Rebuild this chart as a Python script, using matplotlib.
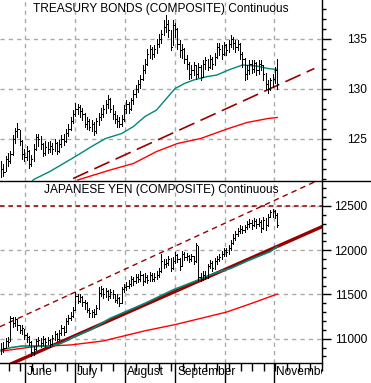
import numpy as np
import matplotlib.pyplot as plt
from matplotlib.lines import Line2D
from matplotlib.transforms import Bbox, TransformedBbox

plt.rcParams['font.family'] = ['Liberation Sans', 'DejaVu Sans']
plt.rcParams['font.size'] = 8.6

# ---- Treasury bonds (daily bars) ----
bond_close = [122.0, 121.7, 123.0, 122.8, 123.5, 125.0, 125.8, 126.0, 124.8, 123.5,
              123.2, 123.8, 122.5, 123.0, 124.0, 125.2, 125.0, 124.5, 123.6, 124.2,
              124.0, 124.3, 124.0, 124.6, 123.8, 124.5, 125.0, 124.8, 125.6, 126.0,
              126.8, 127.5, 128.0, 128.2, 127.8, 127.5, 126.5, 126.8, 126.2, 126.5,
              125.8, 126.8, 127.2, 127.5, 128.0, 128.5, 129.0, 128.0, 127.5, 127.0,
              126.8, 126.5, 127.0, 128.0, 128.5, 128.0, 128.8, 129.5, 130.0, 130.5,
              131.0, 131.8, 132.5, 133.5, 134.0, 133.5, 134.0, 134.5, 135.0, 135.5,
              136.2, 136.5, 135.8, 134.2, 136.3, 136.0, 134.5, 133.8, 134.0, 133.0,
              132.5, 131.5, 131.8, 132.3, 131.5, 132.2, 131.2, 132.5, 132.8, 132.2,
              133.0, 132.5, 133.2, 134.2, 134.0, 133.5, 134.3, 133.8, 134.5, 135.0,
              134.6, 134.2, 134.5, 133.5, 133.0, 131.5, 131.8, 132.5, 132.0, 132.6,
              131.8, 132.5, 132.3, 131.5, 130.5, 130.0, 130.8, 131.0, 131.8, 130.5]
bond_high = [122.8, 122.5, 123.3, 123.6, 123.8, 125.4, 126.1, 126.6, 125.9, 124.9,
             124.0, 124.3, 123.9, 123.4, 124.5, 125.5, 125.5, 125.3, 124.6, 124.8,
             124.7, 124.8, 124.6, 125.0, 124.7, 124.9, 125.4, 125.5, 126.0, 126.5,
             127.2, 127.9, 128.6, 128.5, 128.4, 128.1, 127.6, 127.2, 127.0, 126.9,
             126.7, 127.1, 127.6, 128.1, 128.4, 128.8, 129.4, 129.1, 128.3, 127.8,
             127.4, 127.2, 127.4, 128.3, 128.8, 128.7, 129.1, 129.8, 130.4, 130.9,
             131.4, 132.3, 133.0, 134.0, 134.4, 134.2, 134.4, 135.0, 135.5, 135.9,
             136.9, 137.3, 136.8, 135.9, 136.8, 136.6, 136.1, 134.9, 134.5, 134.1,
             133.3, 132.7, 132.3, 132.7, 132.4, 132.6, 132.3, 132.8, 133.2, 133.0,
             133.3, 133.2, 133.6, 134.6, 134.6, 134.3, 134.7, 134.5, 134.9, 135.4,
             135.2, 134.9, 134.9, 134.6, 133.7, 133.1, 132.3, 132.9, 132.8, 132.9,
             132.7, 132.8, 132.8, 132.4, 131.6, 130.9, 131.1, 131.5, 132.2, 133.0]
bond_low = [121.2, 121.3, 121.8, 122.3, 122.6, 123.4, 124.6, 125.2, 124.4, 123.0,
            122.8, 122.9, 122.1, 122.3, 122.8, 123.9, 124.3, 124.0, 123.3, 123.4,
            123.6, 123.7, 123.5, 123.8, 123.5, 123.7, 124.2, 124.4, 124.7, 125.3,
            125.9, 126.6, 127.3, 127.5, 127.2, 126.9, 126.2, 126.0, 125.9, 125.8,
            125.4, 125.6, 126.4, 126.9, 127.2, 127.6, 128.1, 127.7, 127.0, 126.6,
            126.2, 126.2, 126.3, 126.8, 127.6, 127.6, 127.9, 128.5, 129.2, 129.7,
            130.1, 130.8, 131.6, 132.3, 133.1, 133.0, 133.2, 133.6, 134.2, 134.6,
            135.3, 135.7, 135.2, 133.8, 134.3, 135.2, 134.0, 133.2, 133.1, 132.6,
            132.0, 131.0, 131.1, 131.4, 131.0, 131.2, 130.8, 131.2, 132.0, 131.8,
            132.1, 132.0, 132.3, 133.1, 133.4, 133.0, 133.4, 133.3, 133.7, 134.2,
            134.0, 133.7, 133.8, 133.0, 132.2, 130.9, 131.0, 131.5, 131.6, 131.7,
            131.4, 131.5, 131.8, 130.9, 130.0, 129.6, 129.8, 130.2, 130.6, 130.0]

bond_ma_x = [12, 14, 21, 32, 39, 45, 52, 57, 62, 67, 72, 75, 79, 83, 89, 93, 98, 104, 110, 115, 119]
bond_ma_y = [120.4, 120.9, 121.7, 123.2, 124.2, 125.0, 125.5, 126.2, 127.2, 127.85, 129.2,
             130.0, 130.5, 130.85, 131.2, 131.35, 131.85, 132.35, 132.25, 132.0, 131.9]
bond_long_x = [33, 47, 57, 67, 76, 86, 98, 106, 115, 119]
bond_long_y = [120.85, 121.85, 122.5, 123.7, 124.5, 125.0, 126.0, 126.6, 127.0, 127.1]
bond_trend_x = [31, 135]
bond_trend_y = [121.0, 132.0]

# ---- Japanese yen (daily bars) ----
yen_close = [10880, 10900, 10980, 10960, 11230, 11180, 11220, 11150, 11100, 11120,
             11040, 11020, 10960, 10850, 10880, 10970, 10990, 10950, 11000, 10960,
             10990, 10940, 11010, 11050, 11000, 11060, 11120, 11080, 11200, 11230,
             11260, 11330, 11480, 11430, 11470, 11420, 11400, 11330, 11290, 11300,
             11280, 11350, 11520, 11560, 11500, 11540, 11480, 11530, 11500, 11440,
             11460, 11400, 11560, 11580, 11600, 11620, 11680, 11650, 11700, 11670,
             11720, 11650, 11700, 11660, 11720, 11680, 11700, 11720, 11760, 11880,
             11840, 11860, 11900, 11800, 11880, 11950, 11900, 11820, 11960, 11920,
             11940, 11900, 11930, 11880, 12060, 11700, 11680, 11720, 11700, 11820,
             11860, 11800, 11880, 11900, 11920, 11960, 12000, 11980, 12020, 12080,
             12140, 12180, 12220, 12240, 12230, 12260, 12300, 12310, 12280, 12330,
             12300, 12320, 12250, 12340, 12280, 12380, 12430, 12440, 12400, 12290]
yen_high = [10950, 10960, 11010, 11020, 11260, 11240, 11250, 11220, 11160, 11150,
            11110, 11060, 11030, 10970, 10920, 11000, 11020, 11010, 11030, 11010,
            11020, 11000, 11040, 11090, 11060, 11100, 11150, 11140, 11230, 11270,
            11300, 11360, 11530, 11500, 11500, 11480, 11440, 11410, 11350, 11330,
            11340, 11380, 11590, 11600, 11570, 11570, 11550, 11560, 11550, 11510,
            11500, 11470, 11590, 11620, 11640, 11660, 11710, 11700, 11730, 11730,
            11760, 11730, 11740, 11720, 11750, 11740, 11740, 11760, 11800, 11960,
            11900, 11900, 11940, 11910, 11920, 11980, 11960, 11910, 11990, 11980,
            11970, 11950, 11960, 11940, 12080, 12050, 11740, 11760, 11760, 11850,
            11890, 11880, 11910, 11930, 11960, 11990, 12030, 12020, 12060, 12110,
            12180, 12220, 12250, 12280, 12270, 12290, 12330, 12350, 12340, 12360,
            12350, 12360, 12340, 12380, 12360, 12410, 12460, 12470, 12450, 12420]
yen_low = [10830, 10850, 10900, 10920, 10980, 11130, 11140, 11100, 11060, 11050,
           11000, 10960, 10930, 10810, 10820, 10870, 10930, 10910, 10930, 10920,
           10940, 10910, 10930, 10990, 10970, 10990, 11040, 11040, 11080, 11170,
           11210, 11250, 11320, 11400, 11410, 11370, 11340, 11300, 11250, 11240,
           11250, 11280, 11340, 11480, 11460, 11470, 11440, 11460, 11460, 11410,
           11400, 11370, 11400, 11530, 11550, 11570, 11600, 11610, 11630, 11640,
           11650, 11610, 11640, 11630, 11650, 11650, 11650, 11680, 11700, 11750,
           11800, 11810, 11830, 11770, 11790, 11860, 11870, 11780, 11820, 11890,
           11890, 11870, 11880, 11850, 11870, 11660, 11650, 11660, 11670, 11690,
           11800, 11770, 11790, 11850, 11880, 11900, 11940, 11940, 11960, 12000,
           12070, 12120, 12160, 12200, 12200, 12210, 12240, 12260, 12240, 12270,
           12250, 12270, 12210, 12240, 12230, 12270, 12370, 12380, 12360, 12260]

yen_ma_x = [0, 4, 9, 21, 25, 29, 30, 39, 47, 62, 74, 85, 92, 99, 107, 116, 119]
yen_ma_y = [10873, 10899, 10918, 10918, 10940, 10986, 11005, 11107, 11231, 11400,
            11551, 11664, 11740, 11796, 11890, 11984, 12040]
yen_long_x = [0, 14, 30, 44, 62, 75, 86, 97, 108, 119]
yen_long_y = [10860, 10910, 10930, 10975, 11090, 11160, 11230, 11300, 11400, 11505]
yen_support_x = [-0.5, 138.3]
yen_support_y = [10661, 12266]
yen_channel_x = [-0.5, 138.3]
yen_channel_y = [11136, 12810]
yen_resistance = 12500

month_pos = [-11.3, 10.3, 31.8, 53.4, 74.9, 96.5, 117.6]
month_labels = ['May', 'June', 'July', 'August', 'September', '', 'November']

W, H = 371, 383
fig = plt.figure(figsize=(W / 100, H / 100), dpi=100)
ax1 = fig.add_axes([0, 1 - 181 / H, 322 / W, 181 / H])
ax2 = fig.add_axes([0, 1 - 363 / H, 322 / W, 182 / H])

teal = '#008878'
maroon = '#990000'


def draw_bars(ax, hi, lo, cl):
    x = np.arange(len(cl))
    ax.vlines(x, lo, hi, color='black', lw=0.72, zorder=5, antialiased=False)
    ax.hlines(cl, x, x + 0.5, color='black', lw=0.72, zorder=5, antialiased=False)


# top panel
draw_bars(ax1, bond_high, bond_low, bond_close)
ax1.plot(bond_ma_x, bond_ma_y, color=teal, lw=1)
ax1.plot(bond_long_x, bond_long_y, color='red', lw=1)
ax1.plot(bond_trend_x, bond_trend_y, color=maroon, lw=1.2, linestyle=(0, (10, 4)))
ax1.set_ylim(120.75, 138.85)
ax1.set_yticks([125, 130, 135])
ax1.set_yticks(np.arange(121, 139), minor=True)
ax1.text(0.5, 1 - 3 / 181, 'TREASURY BONDS (COMPOSITE) Continuous',
         transform=ax1.transAxes, ha='center', va='top')

# bottom panel
draw_bars(ax2, yen_high, yen_low, yen_close)
ax2.plot(yen_long_x, yen_long_y, color='red', lw=1)
ax2.plot(yen_support_x, yen_support_y, color=maroon, lw=2.4)
ax2.plot(yen_ma_x, yen_ma_y, color=teal, lw=1.2)
ax2.plot(yen_channel_x, yen_channel_y, color=maroon, lw=1, linestyle=(0, (4, 3)))
ax2.axhline(yen_resistance, color=maroon, lw=1.1, linestyle=(0, (3, 2.5)))
ax2.set_ylim(10726, 12782)
ax2.set_yticks([11000, 11500, 12000, 12500])
ax2.set_yticks(np.arange(10800, 12800, 100), minor=True)
ax2.text(0.5, 1 - 3 / 182, 'JAPANESE YEN (COMPOSITE) Continuous',
         transform=ax2.transAxes, ha='center', va='top')

for ax in (ax1, ax2):
    ax.set_facecolor('none')
    for s in ['top', 'left', 'bottom']:
        ax.spines[s].set_visible(False)
    ax.spines['right'].set_linewidth(1)
    ax.yaxis.tick_right()
    ax.tick_params(axis='y', which='major', length=6.5, width=1, pad=26, labelsize=8.6)
    ax.tick_params(axis='y', which='minor', length=3, width=1)
    ax.set_xticks(month_pos)
    ax.set_xlim(-0.5, 138.3)
    ax.grid(True, which='major', color='#aaaaaa', linestyle=(0, (3, 3)), linewidth=1)
    for t in ax.get_yticklabels():
        t.set_horizontalalignment('right')

ax1.tick_params(axis='x', which='both', length=0, labelbottom=False)
ax2.spines['bottom'].set_visible(True)
ax2.spines['bottom'].set_linewidth(1)
ax2.set_xticks(np.arange(3.2, 139, 5), minor=True)
ax2.set_xlim(-0.5, 138.3)
ax2.tick_params(axis='x', which='major', length=14.4, width=1, labelbottom=False)
ax2.tick_params(axis='x', which='minor', length=6, width=1)

# month names start just right of each month line; the chart clips them at its right edge
clip = TransformedBbox(Bbox([[0, 0], [322 / W, 363 / H]]), fig.transFigure)
for pos, lab in zip(month_pos, month_labels):
    t = ax2.text(pos + 0.9, -3 / 182, lab, transform=ax2.get_xaxis_transform(),
                 ha='left', va='top')
    t.set_clip_path(None)
    t.set_clip_box(clip)
    t.set_clip_on(True)

fig.add_artist(Line2D([0, 1], [1 - 181 / H] * 2, color='black', lw=1,
                      transform=fig.transFigure))

fig.savefig('out.png', dpi=100)
